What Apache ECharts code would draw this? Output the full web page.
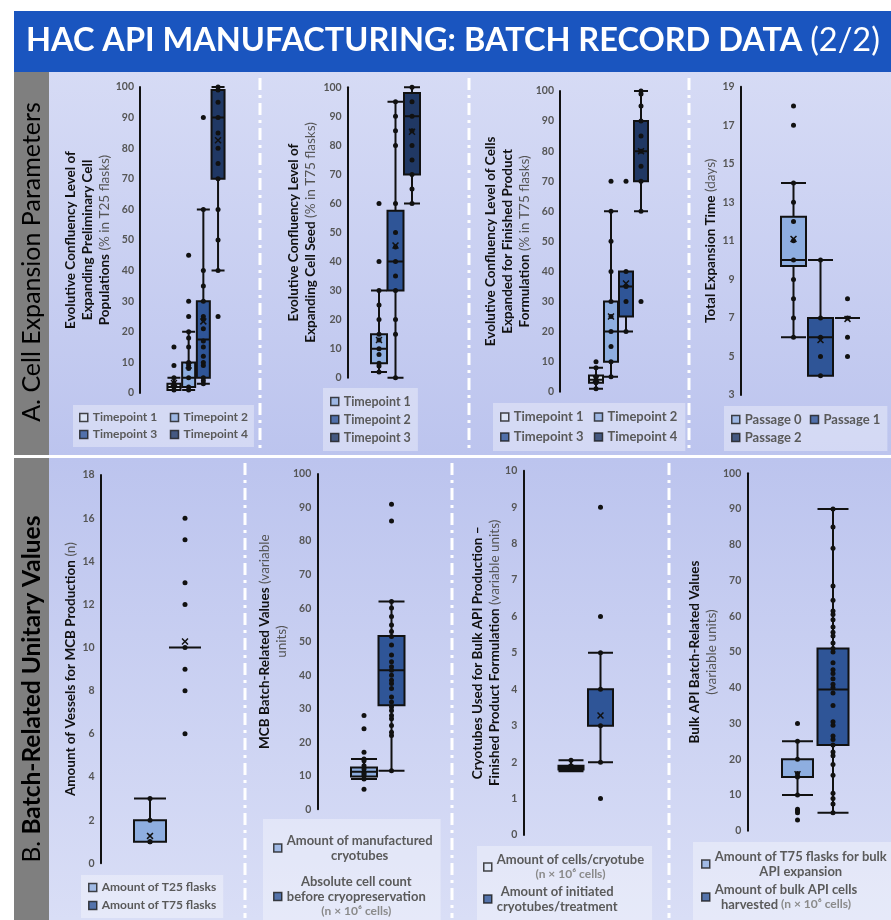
<!DOCTYPE html>
<html>
<head>
<meta charset="utf-8">
<script src="https://cdn.jsdelivr.net/npm/echarts@6/dist/echarts.min.js"></script>
<style>
html,body{margin:0;padding:0;background:#fff;}
#main{width:891px;height:920px;}
</style>
</head>
<body>
<div id="main"></div>
<script>
// ---- data ----
var a1Names = ['Timepoint 1', 'Timepoint 2', 'Timepoint 3', 'Timepoint 4'];
var a1Boxes = [[1, 1, 2, 3, 5], [1, 2, 5, 10, 20], [3, 5, 17.5, 30, 60], [40, 70, 90, 99, 100]];
var a1Means = [3.3, 9, 23.4, 82.6];
var a1Points = [[15, 9, 5, 3, 2, 1], [45, 30, 25, 20, 18, 15, 10, 9, 8, 5, 2, 1],
    [90, 60, 40, 35, 30, 25, 24, 21, 17, 15, 12, 10, 9, 5, 4, 3], [100, 99, 95, 90, 85, 80, 75, 70, 60, 50, 40, 25]];

var a2Names = ['Timepoint 1', 'Timepoint 2', 'Timepoint 3'];
var a2Boxes = [[2, 5, 10, 15, 30], [0, 30, 40, 57.5, 95], [60, 70, 90, 98, 100]];
var a2Means = [13, 45.5, 84.7];
var a2Points = [[60, 40, 30, 25, 20, 15, 13, 10, 8, 5, 4, 2], [95, 90, 85, 80, 60, 50, 45, 40, 35, 30, 20, 15, 0],
    [100, 95, 90, 85, 80, 75, 70, 65, 60]];

var a3Names = ['Timepoint 1', 'Timepoint 2', 'Timepoint 3', 'Timepoint 4'];
var a3Boxes = [[1, 3, 4, 5.4, 8], [5, 10, 20, 30, 60], [20, 25, 35, 40, 40], [60, 70, 80, 90, 100]];
var a3Means = [4.2, 25, 36, 80];
var a3Points = [[10, 8, 5, 4, 3, 1], [70, 60, 50, 40, 30, 25, 20, 15, 10, 5], [70, 40, 35, 30, 20],
    [100, 99, 95, 90, 85, 80, 75, 70, 60, 30]];

var a4Names = ['Passage 0', 'Passage 1', 'Passage 2'];
var a4Boxes = [[6, 9.7, 10, 12.25, 14], [4, 4, 6, 7, 10], [7, 7, 7, 7, 7]];
var a4Means = [11.1, 5.85, 6.95];
var a4Points = [[18, 17, 14, 13, 12, 11, 10, 9, 8, 7, 6], [10, 7, 6, 5, 4], [8, 7, 6, 5]];

var b1Names = ['Amount of T25 flasks', 'Amount of T75 flasks'];
var b1Boxes = [[1, 1, 1, 2, 3], [10, 10, 10, 10, 10]];
var b1Means = [1.27, 10.28];
var b1Points = [[1, 1, 2, 3], [16, 15, 13, 12, 10, 9, 8, 6]];

var b2Names = ['Amount of manufactured cryotubes', 'Absolute cell count before cryopreservation (n × 10⁶ cells)'];
var b2Boxes = [[9, 9.8, 11.2, 12.5, 15], [11.5, 31, 41.5, 51.7, 62]];
var b2Means = [null, null];
var b2Points = [[28, 24, 17, 15, 14.5, 13, 12, 11, 10.5, 10, 9, 6],
    [91, 86, 62, 60, 57.5, 55, 53, 51.5, 49, 46, 44, 42.5, 41.5, 40, 38.5, 37.5, 36, 33.5, 32, 30.5, 29.5, 28, 27, 25, 23, 22, 11.5]];

var b3Names = ['Amount of cells/cryotube (n × 10⁶ cells)', 'Amount of initiated cryotubes/treatment'];
var b3Boxes = [[1.75, 1.8, 1.85, 1.9, 2.05], [2, 3, 3, 4, 5]];
var b3Means = [1.84, 3.28];
var b3Points = [[2.05, 1.9, 1.85, 1.8], [9, 6, 5, 4, 3, 2, 1]];

var b4Names = ['Amount of T75 flasks for bulk API expansion', 'Amount of bulk API cells harvested (n × 10⁶ cells)'];
var b4Boxes = [[10, 15, 15, 20, 25], [5, 24, 39.5, 51, 90]];
var b4Means = [15.8, null];
var b4Points = [[30, 25, 20, 16, 15, 10, 6, 5.5, 5, 3],
    [90, 85, 79, 68.5, 64.5, 61.5, 60.5, 59, 57, 55.5, 54.5, 52.5, 51, 50, 47, 45, 44, 42.5, 41, 40, 38.5, 35,
     30.5, 29.5, 26.5, 25.5, 24, 22, 21, 18.5, 15.5, 10.5, 9, 7.5, 5]];

// ---- styling ----
var F = 'Lato, "Noto Sans", sans-serif';
var C0 = '#dde6f6', C1 = '#8eaee0', C2 = '#2f5597', C3 = '#203864';
var X_PATH = 'path://M0,1.5L1.5,0L5,3.5L8.5,0L10,1.5L6.5,5L10,8.5L8.5,10L5,6.5L1.5,10L0,8.5L3.5,5Z';

var legendRich = {
    t: {fontFamily: F, fontSize: 13, fontWeight: 'bold', color: '#5a5a5a', lineHeight: 15, align: 'center'},
    l: {fontFamily: F, fontSize: 12, color: '#8a8a8a', lineHeight: 15, align: 'center'}
};
var nameRich = {
    b: {fontFamily: F, fontSize: 13.5, fontWeight: 'bold', color: '#111', lineHeight: 17, align: 'center'},
    n: {fontFamily: F, fontSize: 13.5, color: '#555', lineHeight: 17, align: 'center'}
};

var panels = [
    {id: 'a1', names: a1Names, boxes: a1Boxes, means: a1Means, points: a1Points, colors: [C0, C1, C2, C3],
     grid: {left: 166.6, top: 87, width: 58.8, height: 306}, axisX: 140, min: 0, max: 100, interval: 10, boxW: 13,
     yName: '{b|Evolutive Confluency Level of}\n{b|Expanding Preliminary Cell}\n{b|Populations}{n| (% in T25 flasks)}', nameGap: 27,
     legend: {left: 73, top: 405, orient: 'horizontal', width: 180, itemGap: 2, colW: 75, fontSize: 12, lineHeight: 15, padding: [5, 6, 5, 6]}},
    {id: 'a2', names: a2Names, boxes: a2Boxes, means: a2Means, points: a2Points, colors: [C1, C2, C3],
     grid: {left: 370.75, top: 87.3, width: 49.5, height: 290.4}, axisX: 347.7, min: 0, max: 100, interval: 10, boxW: 16,
     yName: '{b|Evolutive Confluency Level of}\n{b|Expanding Cell Seed}{n| (% in T75 flasks)}', nameGap: 29,
     legend: {left: 323, top: 388, orient: 'vertical', itemGap: 3, fontSize: 12.5, lineHeight: 15, padding: [6, 7, 6, 7]}},
    {id: 'a3', names: a3Names, boxes: a3Boxes, means: a3Means, points: a3Points, colors: [C0, C1, C2, C3],
     grid: {left: 588.5, top: 91, width: 60, height: 300.7}, axisX: 560, min: 0, max: 100, interval: 10, boxW: 14,
     yName: '{b|Evolutive Confluency Level of Cells}\n{b|Expanded for Finished Product}\n{b|Formulation}{n| (% in T75 flasks)}', nameGap: 27,
     legend: {left: 493, top: 403, orient: 'horizontal', width: 190, itemGap: 4, colW: 76, fontSize: 13, lineHeight: 16, padding: [6, 8, 6, 7]}},
    {id: 'a4', names: a4Names, boxes: a4Boxes, means: a4Means, points: a4Points, colors: [C1, C2, C3],
     grid: {left: 780, top: 86.7, width: 81, height: 308.3}, axisX: 740.7, min: 3, max: 19, interval: 2, boxW: 25,
     yName: '{b|Total Expansion Time}{n| (days)}', nameGap: 22,
     legend: {left: 724, top: 406, orient: 'horizontal', width: 160, itemGap: 3, colW: 62, fontSize: 13, lineHeight: 15, padding: [6, 7, 6, 7]}},
    {id: 'b1', names: b1Names, boxes: b1Boxes, means: b1Means, points: b1Points, colors: [C1, C2],
     grid: {left: 132.5, top: 475, width: 70, height: 388.3}, axisX: 100.7, min: 0, max: 18, interval: 2, boxW: 32,
     yName: '{b|Amount of Vessels for MCB Production}{n| (n)}', nameGap: 22,
     legend: {left: 81, top: 875, orient: 'vertical', itemGap: 3, fontSize: 12, lineHeight: 15, padding: [5, 7, 5, 7]}},
    {id: 'b2', names: b2Names, boxes: b2Boxes, means: b2Means, points: b2Points, colors: [C1, C2],
     grid: {left: 350.25, top: 474, width: 55, height: 335.3}, axisX: 317.3, min: 0, max: 100, interval: 10, boxW: 26,
     yName: '{b|MCB Batch-Related Values}{n| (variable}\n{n|units)}', nameGap: 25,
     legend: {left: 263, top: 819, orient: 'vertical', itemGap: 11, padding: [14, 8, 8, 10],
              text: ['{t|Amount of manufactured}\n{t|cryotubes}', '{t|Absolute cell count}\n{t|before cryopreservation}\n{l|(n × 10⁶ cells)}']}},
    {id: 'b3', names: b3Names, boxes: b3Boxes, means: b3Means, points: b3Points, colors: [C0, C2],
     grid: {left: 556.25, top: 470.7, width: 59, height: 364.3}, axisX: 523.3, min: 0, max: 10, interval: 1, boxW: 25,
     yName: '{b|Cryotubes Used for Bulk API Production –}\n{b|Finished Product Formulation}{n| (variable units)}', nameGap: 20,
     legend: {left: 477, top: 846, orient: 'vertical', itemGap: 2, padding: [6, 8, 8, 6],
              text: ['{t|Amount of cells/cryotube}\n{l|(n × 10⁶ cells)}', '{t|Amount of initiated}\n{t|cryotubes/treatment}']}},
    {id: 'b4', names: b4Names, boxes: b4Boxes, means: b4Means, points: b4Points, colors: [C1, C2],
     grid: {left: 779.75, top: 473.3, width: 71, height: 357.4}, axisX: 747.3, min: 0, max: 100, interval: 10, boxW: 31,
     yName: '{b|Bulk API Batch-Related Values}\n{n|(variable units)}', nameGap: 26,
     legend: {left: 693, top: 842, orient: 'vertical', itemGap: 3, padding: [7, 8, 8, 8],
              text: ['{t|Amount of T75 flasks for bulk}\n{t|API expansion}', '{t|Amount of bulk API cells}\n{t|harvested}{l| (n × 10⁶ cells)}']}}
];

var grids = [], xAxes = [], yAxes = [], series = [], legends = [];

panels.forEach(function (p, i) {
    grids.push(p.grid);
    xAxes.push({type: 'category', gridIndex: i, data: p.names, show: false});
    yAxes.push({
        type: 'value', gridIndex: i, min: p.min, max: p.max, interval: p.interval,
        offset: p.grid.left - p.axisX,
        axisLine: {show: true, lineStyle: {color: '#111', width: 2}},
        axisTick: {show: false}, splitLine: {show: false},
        axisLabel: {color: '#555', fontSize: 10.5, fontWeight: 'bold', fontFamily: F, margin: 6},
        name: p.yName, nameLocation: 'middle', nameRotate: 90, nameGap: p.nameGap,
        nameTextStyle: {rich: nameRich}
    });
    // boxes
    series.push({
        type: 'boxplot', xAxisIndex: i, yAxisIndex: i, boxWidth: [p.boxW, p.boxW], silent: true,
        itemStyle: {borderColor: '#111', borderWidth: 2},
        emphasis: {disabled: true},
        data: p.boxes.map(function (b, j) {
            return {value: b, itemStyle: {color: p.colors[j], borderColor: '#111', borderWidth: 2}};
        })
    });
    // individual observations
    var pts = [];
    p.points.forEach(function (arr, j) {
        arr.forEach(function (v) { pts.push([j, v]); });
    });
    series.push({
        type: 'scatter', xAxisIndex: i, yAxisIndex: i, symbolSize: 5, silent: true, z: 4,
        itemStyle: {color: '#111', opacity: 1}, data: pts
    });
    // means
    var mns = [];
    p.means.forEach(function (m, j) { if (m != null) mns.push([j, m]); });
    series.push({
        type: 'scatter', xAxisIndex: i, yAxisIndex: i, symbol: X_PATH, symbolSize: 7, silent: true, z: 5,
        itemStyle: {color: '#111', opacity: 1}, data: mns
    });
    // legend entries (empty series carrying the colour)
    var legData = [];
    p.names.forEach(function (n, j) {
        var key = p.id + '|' + j;
        series.push({type: 'scatter', name: key, xAxisIndex: i, yAxisIndex: i, data: [], itemStyle: {color: p.colors[j]}});
        var item = {name: key};
        if (p.legend.colW && j % 2 === 0) item.textStyle = {width: p.legend.colW};
        legData.push(item);
    });
    var L = p.legend;
    legends.push({
        left: L.left, top: L.top, orient: L.orient, width: L.width || 300, height: 300,
        itemGap: L.itemGap,
        padding: L.padding, backgroundColor: 'rgba(255,255,255,0.35)',
        icon: 'rect', itemWidth: 8, itemHeight: 8, selectedMode: false,
        itemStyle: {borderColor: '#1a1a1a', borderWidth: 1.5},
        textStyle: {color: '#595959', fontSize: L.fontSize || 13, fontWeight: 'bold', fontFamily: F,
                    lineHeight: L.lineHeight || 15, rich: legendRich},
        formatter: function (name) {
            var j = +name.split('|')[1];
            return L.text ? L.text[j] : p.names[j];
        },
        data: legData
    });
});

var bgA = new echarts.graphic.LinearGradient(0, 0, 0, 1, [{offset: 0, color: '#d6dbf5'}, {offset: 1, color: '#bcc4ee'}]);
var bgB = new echarts.graphic.LinearGradient(0, 0, 0, 1, [{offset: 0, color: '#bcc4ee'}, {offset: 1, color: '#d9def6'}]);
var dash = {stroke: '#fff', lineWidth: 3, lineDash: [12, 5, 3, 5]};

var graphics = [
    {type: 'rect', z: -10, shape: {x: 14, y: 11, width: 877, height: 61}, style: {fill: '#1a55bf'}},
    {type: 'rect', z: -10, shape: {x: 49, y: 72, width: 842, height: 383}, style: {fill: bgA}},
    {type: 'rect', z: -10, shape: {x: 49, y: 458, width: 842, height: 462}, style: {fill: bgB}},
    {type: 'rect', z: -10, shape: {x: 14, y: 72, width: 35, height: 383}, style: {fill: '#7f7f7f'}},
    {type: 'rect', z: -10, shape: {x: 14, y: 458, width: 35, height: 462}, style: {fill: '#7f7f7f'}},
    {type: 'line', z: -5, shape: {x1: 260, y1: 78, x2: 260, y2: 452}, style: dash},
    {type: 'line', z: -5, shape: {x1: 469, y1: 78, x2: 469, y2: 452}, style: dash},
    {type: 'line', z: -5, shape: {x1: 689, y1: 78, x2: 689, y2: 452}, style: dash},
    {type: 'line', z: -5, shape: {x1: 245, y1: 463, x2: 245, y2: 918}, style: dash},
    {type: 'line', z: -5, shape: {x1: 452, y1: 463, x2: 452, y2: 918}, style: dash},
    {type: 'line', z: -5, shape: {x1: 669, y1: 463, x2: 669, y2: 918}, style: dash},
    {type: 'text', z: 5, x: 32, y: 262, rotation: Math.PI / 2,
     style: {text: '{a|A. }{b|Cell Expansion Parameters}', align: 'center', verticalAlign: 'middle',
             rich: {a: {fontFamily: F, fontSize: 25, color: '#ececec'}, b: {fontFamily: F, fontSize: 25, color: '#ececec'}}}},
    {type: 'text', z: 5, x: 32, y: 689, rotation: Math.PI / 2,
     style: {text: '{a|B. }{b|Batch-Related Unitary Values}', align: 'center', verticalAlign: 'middle',
             rich: {a: {fontFamily: F, fontSize: 24.5, color: '#ececec'}, b: {fontFamily: F, fontSize: 24.5, fontWeight: 'bold', color: '#ececec'}}}}
];

var chart = echarts.init(document.getElementById('main'), null, {renderer: 'canvas'});
chart.setOption({
    animation: false,
    backgroundColor: '#fff',
    title: {
        text: '{b|HAC API MANUFACTURING: BATCH RECORD DATA }{l|(2/2)}',
        left: 26, top: 22, padding: 0,
        textStyle: {rich: {
            b: {fontFamily: F, fontSize: 32.5, fontWeight: 'bold', color: '#fff', lineHeight: 38},
            l: {fontFamily: F, fontSize: 32.5, fontWeight: 'normal', color: '#fff', lineHeight: 38}
        }}
    },
    graphic: graphics,
    grid: grids,
    xAxis: xAxes,
    yAxis: yAxes,
    legend: legends,
    series: series
});
</script>
</body>
</html>
